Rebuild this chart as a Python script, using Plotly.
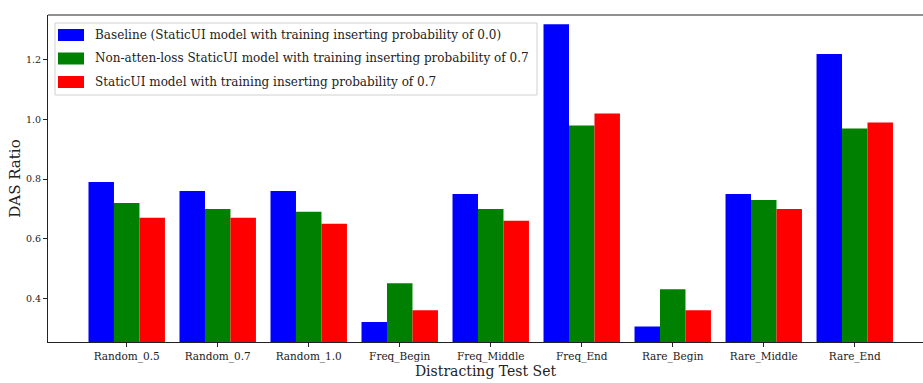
import plotly.graph_objects as go

categories = ["Random_0.5", "Random_0.7", "Random_1.0", "Freq_Begin", "Freq_Middle",
              "Freq_End", "Rare_Begin", "Rare_Middle", "Rare_End"]
baseline = [0.79, 0.76, 0.76, 0.32, 0.75, 1.32, 0.305, 0.75, 1.22]
non_atten = [0.72, 0.70, 0.69, 0.45, 0.70, 0.98, 0.43, 0.73, 0.97]
staticui = [0.67, 0.67, 0.65, 0.36, 0.66, 1.02, 0.36, 0.70, 0.99]
series_names = [
    "Baseline (StaticUI model with training inserting probability of 0.0)",
    "Non-atten-loss StaticUI model with training inserting probability of 0.7",
    "StaticUI model with training inserting probability of 0.7",
]
series_colors = ["#0000ff", "#008000", "#ff0000"]
y_ticks = [0.4, 0.6, 0.8, 1.0, 1.2]

FONT = "DejaVu Serif"
W, H = 923, 383
ML, MR, MT, MB = 48, 0, 15, 41
PW = W - ML - MR
PH = H - MT - MB

fig = go.Figure()
for name, vals, col in zip(series_names, [baseline, non_atten, staticui], series_colors):
    fig.add_trace(go.Bar(x=categories, y=vals, name=name, marker_color=col,
                         marker_line_width=0, showlegend=False))

def px_x(x):
    return (x - ML) / PW

def px_y(y):
    return (H - MB - y) / PH

shapes = []
annotations = []
# top spine
shapes.append(dict(type="line", xref="paper", yref="paper", x0=0, x1=1, y0=1, y1=1,
                   line=dict(color="#222", width=1.2)))
# legend box
shapes.append(dict(type="rect", xref="paper", yref="paper",
                   x0=px_x(55), x1=px_x(537), y0=px_y(95), y1=px_y(23),
                   line=dict(color="#d0d0d0", width=1), fillcolor="rgba(255,255,255,0.85)"))
rows = [35, 58.5, 82]
for ry, name, col in zip(rows, series_names, series_colors):
    shapes.append(dict(type="rect", xref="paper", yref="paper",
                       x0=px_x(58), x1=px_x(84), y0=px_y(ry + 6), y1=px_y(ry - 6),
                       line=dict(width=0), fillcolor=col))
    annotations.append(dict(x=px_x(93), y=px_y(ry), xref="paper", yref="paper",
                            text=name, showarrow=False, xanchor="left", yanchor="middle",
                            font=dict(family=FONT, size=12, color="#222")))

fig.update_layout(
    width=W, height=H,
    margin=dict(l=ML, r=MR, t=MT, b=MB),
    plot_bgcolor="white", paper_bgcolor="white",
    barmode="group", bargap=0.16, bargroupgap=0,
    shapes=shapes, annotations=annotations,
    font=dict(family=FONT, color="#222"),
)
fig.update_xaxes(
    range=[-0.865, 8.75], showline=True, linecolor="#222", linewidth=1.2,
    ticks="outside", ticklen=4, tickcolor="#222", showgrid=False, automargin=False,
    tickfont=dict(family=FONT, size=10.5, color="#222"),
    title=dict(text="Distracting Test Set", font=dict(family=FONT, size=14, color="#222"), standoff=4),
)
fig.update_yaxes(
    range=[0.253, 1.351], showline=True, linecolor="#222", linewidth=1.2,
    ticks="outside", ticklen=4, tickcolor="#222", showgrid=False, zeroline=False,
    automargin=False,
    tickvals=y_ticks, ticktext=[f"{v:.1f}" for v in y_ticks],
    tickfont=dict(family=FONT, size=9.5, color="#222"),
    title=dict(text="DAS Ratio", font=dict(family=FONT, size=15, color="#222"), standoff=1),
)

fig.write_html("out.html", config={"displayModeBar": False},
               post_script="document.body.style.margin='0';")
